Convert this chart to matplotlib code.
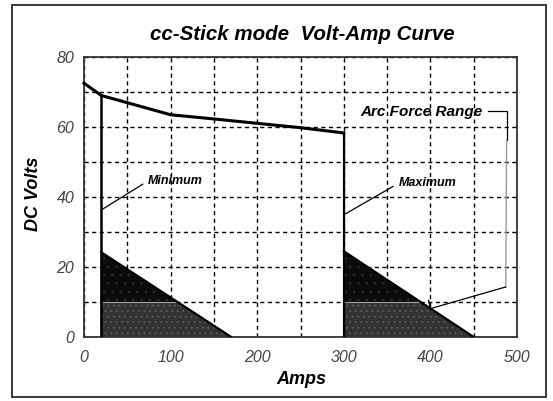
import matplotlib
matplotlib.use("Agg")
import matplotlib.pyplot as plt
from matplotlib.patches import Polygon, Rectangle

# volt-amp curve (open circuit droop)
curve_amps = [0, 20, 100, 150, 250, 300]
curve_volts = [72.5, 69, 63.5, 62.3, 59.8, 58.3]

# current limits for the two settings
min_amps, max_amps = 20, 300
min_top, max_top = 69, 58.3

# arc force triangles (amps, volts)
min_tri_amps = [20, 20, 170]
min_tri_volts = [0, 24.2, 0]
max_tri_amps = [300, 300, 450]
max_tri_volts = [0, 24.5, 0]
band_volts = 10

# arc force range bracket
bracket_amps = [467, 488, 488]
bracket_volts = [64.5, 64.5, 56.2]
bracket_low_amps = [488, 487]
bracket_low_volts = [56.2, 14.3]
bracket_tail_amps = [487, 400, 398]
bracket_tail_volts = [14.3, 8.1, 10.5]

x_ticks = [0, 100, 200, 300, 400, 500]
y_ticks = [0, 20, 40, 60, 80]

LABEL = dict(family="Liberation Sans", weight="bold", style="italic")

fig = plt.figure(figsize=(5.53, 4.01), dpi=100)
ax = fig.add_axes([84 / 553, 1 - 337 / 401, 433 / 553, 280 / 401])

# outer frame of the scanned figure
fig.patches.append(Rectangle((12 / 553, 1 - 397 / 401), 534 / 553, 392 / 401,
                             transform=fig.transFigure, fill=False,
                             edgecolor="#3a3a3a", linewidth=1.4))

ax.set_xlim(0, 500)
ax.set_ylim(0, 80)
ax.set_xticks(x_ticks)
ax.set_yticks(y_ticks)
ax.set_xticks(range(0, 501, 50), minor=True)
ax.set_yticks(range(0, 81, 10), minor=True)
ax.tick_params(which="both", length=0)
ax.tick_params(axis="x", pad=9)
ax.tick_params(axis="y", pad=7)
for lbl in ax.get_xticklabels() + ax.get_yticklabels():
    lbl.set_fontfamily("Liberation Sans")
    lbl.set_fontstyle("italic")
    lbl.set_fontsize(11.5)
    lbl.set_color("#444444")

ax.set_axisbelow(True)
ax.grid(which="both", color="black", linestyle=(0, (3, 2.5)), linewidth=1.0)
for sp in ax.spines.values():
    sp.set_color("#333333")
    sp.set_linewidth(1.3)

# shaded arc force triangles, darker above the 10 V band
plt.rcParams["hatch.linewidth"] = 0.6
for tx, ty in [(min_tri_amps, min_tri_volts), (max_tri_amps, max_tri_volts)]:
    tri = Polygon(list(zip(tx, ty)), closed=True, facecolor="#0c0c0c",
                  edgecolor="#2c2c2c", hatch="..", linewidth=0, zorder=2)
    ax.add_patch(tri)
    band = Rectangle((tx[0], 0), tx[2] - tx[0], band_volts, facecolor="#333333",
                     edgecolor="#5e5e5e", hatch="...", linewidth=0, zorder=3)
    band.set_clip_path(tri)
    ax.add_patch(band)
    ax.plot([tx[0], tx[0] + (tx[2] - tx[0]) * (1 - band_volts / ty[1])],
            [band_volts, band_volts], color="#a0a0a0", linewidth=0.8, zorder=4)
    ax.plot(tx[1:], ty[1:], color="black", linewidth=1.6, zorder=5)
    ax.plot(tx[:2], ty[:2], color="#8a8a8a", linewidth=1.2, zorder=5)

# main curve and the two current limits
ax.plot(curve_amps, curve_volts, color="black", linewidth=2.2, zorder=6,
        solid_joinstyle="round", clip_on=False)
ax.plot([min_amps, min_amps], [0, min_top], color="black", linewidth=1.8, zorder=6)
ax.plot([max_amps, max_amps], [0, max_top], color="black", linewidth=1.6, zorder=6)

# callouts
arrow = dict(arrowstyle="-", color="black", linewidth=0.9, shrinkA=2, shrinkB=0,
             relpos=(0, 0.5))
ax.annotate("Minimum", xy=(min_amps, 36.3), xytext=(74, 44.6), ha="left",
            va="center", fontsize=9, arrowprops=arrow, zorder=7, **LABEL)
ax.annotate("Maximum", xy=(max_amps + 2, 35.2), xytext=(363, 43.9), ha="left",
            va="center", fontsize=9, arrowprops=arrow, zorder=7, **LABEL)
ax.text(319, 64.3, "Arc Force Range", ha="left", va="center", fontsize=11,
        zorder=7, **LABEL)
ax.plot(bracket_amps, bracket_volts, color="black", linewidth=0.9, zorder=7)
ax.plot(bracket_low_amps, bracket_low_volts, color="#9a9a9a", linewidth=1.0, zorder=7)
ax.plot(bracket_tail_amps, bracket_tail_volts, color="black", linewidth=0.9, zorder=7)

fig.text(302 / 553, 1 - 35 / 401, "cc-Stick mode  Volt-Amp Curve", ha="center",
         va="center", fontsize=14.8, **LABEL)
fig.text(33 / 553, 1 - 194 / 401, "DC Volts", rotation=90, ha="center",
         va="center", fontsize=13, **LABEL)
fig.text(301 / 553, 1 - 380 / 401, "Amps", ha="center", va="center",
         fontsize=13, **LABEL)

fig.savefig("out.png", dpi=100)
